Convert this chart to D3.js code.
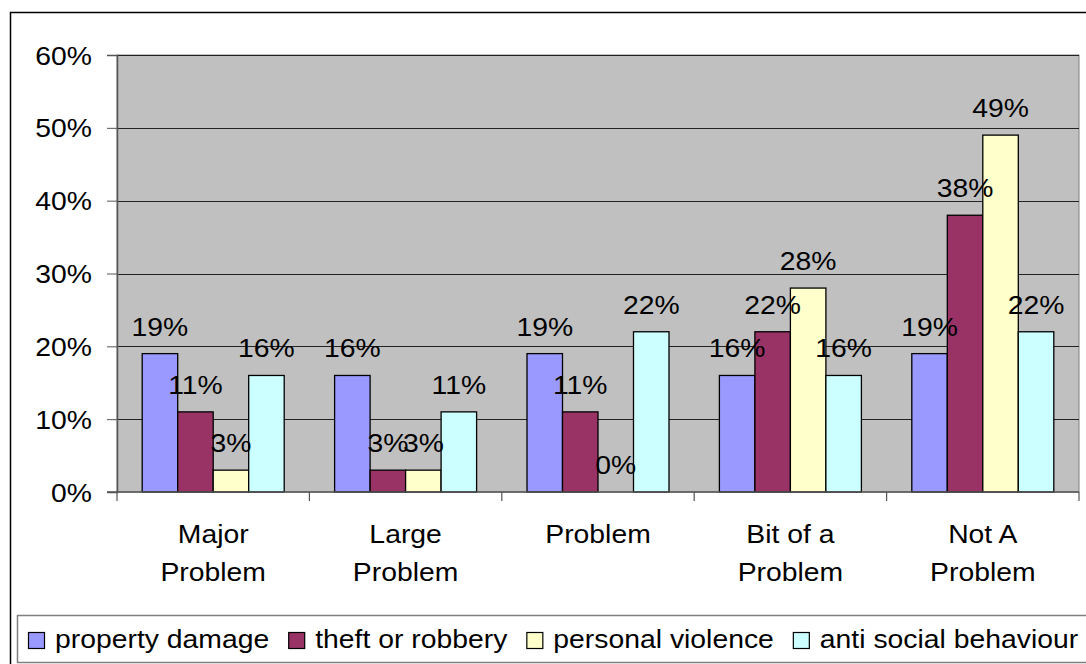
<!DOCTYPE html>
<html>
<head>
<meta charset="utf-8">
<script src="https://cdn.jsdelivr.net/npm/d3@7"></script>
<style>
  html, body { margin: 0; padding: 0; background: #fff; }
  svg { display: block; }
  text { font-family: "Liberation Sans", Arial, sans-serif; font-size: 26px; fill: #000; }
</style>
</head>
<body>
<svg id="chart" width="1086" height="664"></svg>
<script>
// ---- data ----
const categories = [["Major", "Problem"], ["Large", "Problem"], ["Problem"], ["Bit of a", "Problem"], ["Not A", "Problem"]];
const seriesNames = ["property damage", "theft or robbery", "personal violence", "anti social behaviour"];
const propertyDamage = [19, 16, 19, 16, 19];
const theftOrRobbery = [11, 3, 11, 22, 38];
const personalViolence = [3, 3, 0, 28, 49];
const antiSocialBehaviour = [16, 11, 22, 16, 22];
const seriesColors = ["#9999FF", "#993366", "#FFFFCC", "#CCFFFF"];
const yTicks = [0, 10, 20, 30, 40, 50, 60];

const seriesValues = [propertyDamage, theftOrRobbery, personalViolence, antiSocialBehaviour];
const catKeys = categories.map(c => c.join(" "));

// ---- layout ----
const svg = d3.select("#chart");
const plot = { left: 117, right: 1079, top: 55, bottom: 492 };
const SX = 1.09;

function txt(g, x, y, s, anchor) {
  return g.append("text")
    .attr("transform", `translate(${x},${y}) scale(${SX},1)`)
    .attr("text-anchor", anchor)
    .text(s);
}

// outer chart border
svg.append("rect").attr("x", 10.5).attr("y", 12.5).attr("width", 1200).attr("height", 800)
  .attr("fill", "#fff").attr("stroke", "#000").attr("stroke-width", 1.5);

const x0 = d3.scaleBand().domain(catKeys).range([plot.left, plot.right]).paddingInner(0).paddingOuter(0);
const x1 = d3.scaleBand().domain(seriesNames).range([0, x0.bandwidth()]).paddingInner(0).paddingOuter(0.71);
const y = d3.scaleLinear().domain([0, 60]).range([plot.bottom, plot.top]);

// plot background
svg.append("rect").attr("x", plot.left).attr("y", plot.top)
  .attr("width", plot.right - plot.left).attr("height", plot.bottom - plot.top)
  .attr("fill", "#C0C0C0").attr("stroke", "#808080").attr("stroke-width", 1);

// gridlines
svg.append("g").selectAll("line").data(yTicks.filter(t => t > 0)).join("line")
  .attr("x1", plot.left).attr("x2", plot.right)
  .attr("y1", d => Math.round(y(d)) + 0.5).attr("y2", d => Math.round(y(d)) + 0.5)
  .attr("stroke", "#222").attr("stroke-width", 1);

// y axis
const yAxis = d3.axisLeft(y).tickValues(yTicks).tickSize(10).tickFormat(d => d + "%");
const gy = svg.append("g").attr("transform", `translate(${plot.left},0)`).call(yAxis);
gy.select(".domain").attr("stroke", "#555").attr("stroke-width", 1.5);
gy.selectAll(".tick line").attr("stroke", "#555");
gy.selectAll(".tick text").remove();
yTicks.forEach(t => txt(svg, 92, y(t) + 9.5, t + "%", "end"));

// bars
const groups = svg.append("g").selectAll("g").data(catKeys).join("g")
  .attr("transform", d => `translate(${x0(d)},0)`);
groups.selectAll("rect").data((d, i) => seriesNames.map((s, j) => ({ s, v: seriesValues[j][i], c: seriesColors[j] })))
  .join("rect")
  .attr("x", d => x1(d.s)).attr("width", x1.bandwidth())
  .attr("y", d => y(d.v)).attr("height", d => y(0) - y(d.v))
  .attr("fill", d => d.c).attr("stroke", "#000").attr("stroke-width", 1.3);

// x axis
const xAxisLine = svg.append("g");
xAxisLine.append("line").attr("x1", plot.left - 10).attr("x2", plot.right)
  .attr("y1", plot.bottom).attr("y2", plot.bottom).attr("stroke", "#555").attr("stroke-width", 1.5);
const boundaries = catKeys.map(k => x0(k)).concat([plot.right]);
xAxisLine.selectAll("line.t").data(boundaries).join("line").attr("class", "t")
  .attr("x1", d => d).attr("x2", d => d).attr("y1", plot.bottom).attr("y2", plot.bottom + 9)
  .attr("stroke", "#555").attr("stroke-width", 1.2);

// category labels
categories.forEach((lines, i) => {
  const cx = x0(catKeys[i]) + x0.bandwidth() / 2;
  lines.forEach((ln, k) => txt(svg, cx, 543 + k * 38, ln, "middle"));
});

// data labels
const lbl = svg.append("g");
catKeys.forEach((k, i) => {
  seriesNames.forEach((s, j) => {
    const v = seriesValues[j][i];
    txt(lbl, x0(k) + x1(s) + x1.bandwidth() / 2, y(v) - 18, v + "%", "middle");
  });
});

// legend
svg.append("rect").attr("x", 17.5).attr("y", 615.5).attr("width", 1200).attr("height", 47)
  .attr("fill", "#fff").attr("stroke", "#808080").attr("stroke-width", 1.5);
let lx = 28;
seriesNames.forEach((s, j) => {
  svg.append("rect").attr("x", lx + 0.5).attr("y", 632.5).attr("width", 16).attr("height", 16)
    .attr("fill", seriesColors[j]).attr("stroke", "#000").attr("stroke-width", 1.2);
  const t = txt(svg, lx + 27, 648, s, "start");
  const w = t.node().getComputedTextLength() * SX;
  lx = lx + 27 + w + 19;
});
</script>
</body>
</html>
